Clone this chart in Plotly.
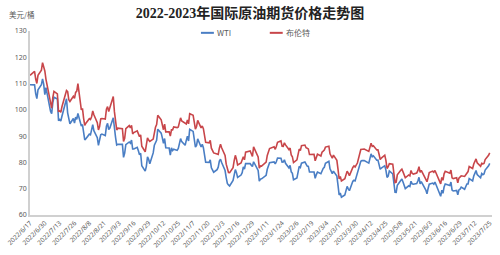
import plotly.graph_objects as go

dates = [
"2022-06-17","2022-06-21","2022-06-22","2022-06-23","2022-06-24","2022-06-27","2022-06-28","2022-06-29","2022-06-30","2022-07-01",
"2022-07-05","2022-07-06","2022-07-07","2022-07-08","2022-07-11","2022-07-12","2022-07-13","2022-07-14","2022-07-15","2022-07-18",
"2022-07-19","2022-07-20","2022-07-21","2022-07-22","2022-07-25","2022-07-26","2022-07-27","2022-07-28","2022-07-29","2022-08-01",
"2022-08-02","2022-08-03","2022-08-04","2022-08-05","2022-08-08","2022-08-09","2022-08-10","2022-08-11","2022-08-12","2022-08-15",
"2022-08-16","2022-08-17","2022-08-18","2022-08-19","2022-08-22","2022-08-23","2022-08-24","2022-08-25","2022-08-26","2022-08-29",
"2022-08-30","2022-08-31","2022-09-01","2022-09-02","2022-09-06","2022-09-07","2022-09-08","2022-09-09","2022-09-12","2022-09-13",
"2022-09-14","2022-09-15","2022-09-16","2022-09-19","2022-09-20","2022-09-21","2022-09-22","2022-09-23","2022-09-26","2022-09-27",
"2022-09-28","2022-09-29","2022-09-30","2022-10-03","2022-10-04","2022-10-05","2022-10-06","2022-10-07","2022-10-10","2022-10-11",
"2022-10-12","2022-10-13","2022-10-14","2022-10-17","2022-10-18","2022-10-19","2022-10-20","2022-10-21","2022-10-24","2022-10-25",
"2022-10-26","2022-10-27","2022-10-28","2022-10-31","2022-11-01","2022-11-02","2022-11-03","2022-11-04","2022-11-07","2022-11-08",
"2022-11-09","2022-11-10","2022-11-11","2022-11-14","2022-11-15","2022-11-16","2022-11-17","2022-11-18","2022-11-21","2022-11-22",
"2022-11-23","2022-11-25","2022-11-28","2022-11-29","2022-11-30","2022-12-01","2022-12-02","2022-12-05","2022-12-06","2022-12-07",
"2022-12-08","2022-12-09","2022-12-12","2022-12-13","2022-12-14","2022-12-15","2022-12-16","2022-12-19","2022-12-20","2022-12-21",
"2022-12-22","2022-12-23","2022-12-27","2022-12-28","2022-12-29","2022-12-30","2023-01-03","2023-01-04","2023-01-05","2023-01-06",
"2023-01-09","2023-01-10","2023-01-11","2023-01-12","2023-01-13","2023-01-17","2023-01-18","2023-01-19","2023-01-20","2023-01-23",
"2023-01-24","2023-01-25","2023-01-26","2023-01-27","2023-01-30","2023-01-31","2023-02-01","2023-02-02","2023-02-03","2023-02-06",
"2023-02-07","2023-02-08","2023-02-09","2023-02-10","2023-02-13","2023-02-14","2023-02-15","2023-02-16","2023-02-17","2023-02-21",
"2023-02-22","2023-02-23","2023-02-24","2023-02-27","2023-02-28","2023-03-01","2023-03-02","2023-03-03","2023-03-06","2023-03-07",
"2023-03-08","2023-03-09","2023-03-10","2023-03-13","2023-03-14","2023-03-15","2023-03-16","2023-03-17","2023-03-20","2023-03-21",
"2023-03-22","2023-03-23","2023-03-24","2023-03-27","2023-03-28","2023-03-29","2023-03-30","2023-03-31","2023-04-03","2023-04-04",
"2023-04-05","2023-04-06","2023-04-10","2023-04-11","2023-04-12","2023-04-13","2023-04-14","2023-04-17","2023-04-18","2023-04-19",
"2023-04-20","2023-04-21","2023-04-24","2023-04-25","2023-04-26","2023-04-27","2023-04-28","2023-05-01","2023-05-02","2023-05-03",
"2023-05-04","2023-05-05","2023-05-08","2023-05-09","2023-05-10","2023-05-11","2023-05-12","2023-05-15","2023-05-16","2023-05-17",
"2023-05-18","2023-05-19","2023-05-22","2023-05-23","2023-05-24","2023-05-25","2023-05-26","2023-05-30","2023-05-31","2023-06-01",
"2023-06-02","2023-06-05","2023-06-06","2023-06-07","2023-06-08","2023-06-09","2023-06-12","2023-06-13","2023-06-14","2023-06-15",
"2023-06-16","2023-06-20","2023-06-21","2023-06-22","2023-06-23","2023-06-26","2023-06-27","2023-06-28","2023-06-29","2023-06-30",
"2023-07-03","2023-07-05","2023-07-06","2023-07-07","2023-07-10","2023-07-11","2023-07-12","2023-07-13","2023-07-14","2023-07-17",
"2023-07-18","2023-07-19","2023-07-20","2023-07-21","2023-07-24","2023-07-25",
]

wti = [
109.56,109.52,106.19,104.27,107.62,109.57,111.76,109.78,105.76,108.43,
99.50,98.53,102.73,104.79,104.09,95.84,96.30,95.78,97.59,102.60,
104.22,98.88,96.35,94.70,96.70,94.98,97.26,96.42,98.62,93.89,
94.42,90.66,88.54,89.01,90.76,90.50,91.93,94.34,92.09,89.41,
86.53,88.11,90.50,90.77,90.23,93.74,94.89,92.52,93.06,97.01,
91.64,89.55,86.61,86.87,86.88,81.94,83.54,86.79,87.78,87.31,
88.48,85.10,85.11,85.73,84.45,82.94,83.49,78.74,76.71,78.50,
82.15,81.23,79.49,83.63,86.52,87.76,88.45,92.64,91.13,89.35,
87.27,89.11,85.61,85.46,82.82,85.55,84.51,85.05,84.58,85.32,
87.91,89.08,87.90,86.53,88.37,90.00,88.17,92.61,91.79,88.91,
85.83,86.47,88.96,85.87,86.92,85.59,81.64,80.08,80.04,80.95,
77.94,76.28,77.24,78.20,80.55,81.22,79.98,76.93,74.25,72.01,
71.46,71.02,73.17,75.39,77.28,76.11,74.29,75.19,76.09,78.29,
77.49,79.56,79.53,78.96,78.40,80.26,76.93,72.84,73.67,73.77,
74.63,75.12,77.41,78.39,79.86,80.18,79.48,80.33,81.64,81.62,
80.13,80.15,81.01,79.68,77.90,78.87,76.41,75.88,73.39,74.11,
77.14,78.47,78.06,79.72,80.14,79.06,78.59,78.49,76.34,76.36,
73.95,75.39,76.32,75.68,77.05,77.69,78.16,79.68,80.46,77.58,
76.66,75.72,76.68,74.80,71.33,67.61,68.35,66.74,67.64,69.33,
70.90,69.96,69.26,72.81,73.20,72.97,74.37,75.67,80.42,80.71,
80.61,80.70,79.74,81.53,83.26,82.16,82.52,80.83,80.86,79.16,
77.37,77.87,78.76,77.07,74.30,74.76,76.78,75.66,71.66,68.60,
68.56,71.34,73.16,73.71,72.56,70.87,70.04,71.11,70.86,72.83,
71.86,71.69,71.99,72.91,74.34,71.83,72.67,69.46,68.09,70.10,
71.74,72.15,71.74,72.53,71.29,70.17,67.12,69.42,68.27,70.62,
71.78,71.19,72.53,69.51,69.16,69.37,67.70,69.56,69.86,70.64,
69.79,71.79,71.80,73.86,72.99,74.83,75.75,76.89,75.42,74.15,
75.75,75.35,75.63,77.07,78.74,79.63,
]

brent = [
113.12,114.65,111.74,110.05,113.12,115.09,117.98,116.26,114.81,111.63,
102.77,100.69,104.65,107.02,106.10,99.49,99.57,99.10,101.16,106.27,
107.35,106.92,103.86,103.20,105.15,104.40,106.62,107.14,110.01,100.03,
100.54,96.78,94.12,94.92,96.65,96.31,97.40,99.60,98.15,95.10,
92.34,93.65,96.59,96.72,96.48,100.22,101.22,99.34,100.99,105.09,
99.31,96.49,92.36,93.02,92.83,88.00,89.15,92.84,94.00,93.17,
94.10,90.84,91.35,92.00,90.62,89.83,90.46,86.15,84.06,86.27,
89.32,88.49,87.96,88.86,91.80,93.37,94.42,97.92,96.19,94.29,
92.45,94.57,91.63,91.62,90.03,92.41,92.38,93.50,93.26,93.52,
95.69,96.96,95.77,94.83,94.65,96.16,94.67,98.57,97.92,95.36,
92.65,93.67,95.99,93.14,93.86,92.86,89.78,87.62,87.45,88.36,
85.41,83.63,83.19,83.03,85.43,86.88,85.57,82.68,79.35,77.17,
76.15,76.10,77.99,80.68,82.70,81.21,79.04,79.80,80.99,82.20,
80.98,83.92,84.33,83.26,82.26,85.91,82.10,77.84,78.69,78.57,
79.65,80.10,82.67,84.03,85.28,85.92,84.98,86.16,87.63,88.19,
86.13,86.12,87.47,86.66,84.90,85.46,82.84,82.17,79.94,80.99,
83.69,85.09,84.50,86.39,86.61,85.58,85.38,85.14,83.00,83.05,
80.60,82.21,83.16,82.45,83.89,84.31,84.75,85.83,86.18,83.29,
82.66,81.59,82.78,80.77,77.45,73.69,74.70,72.97,73.79,75.32,
76.69,75.91,74.99,78.12,78.65,78.28,79.27,79.77,84.93,84.94,
84.99,85.12,84.18,85.61,87.33,86.09,86.31,84.76,84.77,83.12,
81.10,81.66,82.73,80.77,77.69,78.37,79.54,79.31,75.32,72.33,
72.50,75.30,77.01,77.44,76.41,74.98,74.17,75.23,74.91,76.96,
75.86,75.58,75.99,76.84,78.36,76.26,76.95,73.54,72.66,74.28,
76.13,76.71,76.29,76.95,75.96,74.79,71.84,74.29,73.20,75.67,
76.61,75.90,77.12,74.14,73.85,74.18,72.26,74.03,74.34,74.90,
74.65,76.25,76.52,78.47,77.69,79.40,80.11,81.36,79.87,78.50,
79.63,79.46,79.64,81.07,82.74,83.64,
]

tick_dates = ["2022-06-17","2022-06-30","2022-07-13","2022-07-26","2022-08-08","2022-08-21","2022-09-03","2022-09-16",
"2022-09-29","2022-10-12","2022-10-25","2022-11-07","2022-11-20","2022-12-03","2022-12-16","2022-12-29",
"2023-01-11","2023-01-24","2023-02-06","2023-02-19","2023-03-04","2023-03-17","2023-03-30","2023-04-12",
"2023-04-25","2023-05-08","2023-05-21","2023-06-03","2023-06-16","2023-06-29","2023-07-12","2023-07-25"]
tick_text = ["2022/6/17","2022/6/30","2022/7/13","2022/7/26","2022/8/8","2022/8/21","2022/9/3","2022/9/16",
"2022/9/29","2022/10/12","2022/10/25","2022/11/7","2022/11/20","2022/12/3","2022/12/16","2022/12/29",
"2023/1/11","2023/1/24","2023/2/6","2023/2/19","2023/3/4","2023/3/17","2023/3/30","2023/4/12",
"2023/4/25","2023/5/8","2023/5/21","2023/6/3","2023/6/16","2023/6/29","2023/7/12","2023/7/25"]
y_ticks = [60, 70, 80, 90, 100, 110, 120, 130]

series_names = ["WTI", "布伦特"]
series_colors = ["#4A7EC4", "#C8464A"]

grey = "#595959"
fig = go.Figure()
for name, vals, col in zip(series_names, [wti, brent], series_colors):
    fig.add_trace(go.Scatter(x=dates, y=vals, mode="lines", name=name,
                             line=dict(color=col, width=1.6), showlegend=False))

# manual legend (short line samples, as in the reference)
leg_x = [0.370, 0.519]
shapes, annotations = [], []
for name, col, lx in zip(series_names, series_colors, leg_x):
    shapes.append(dict(type="line", xref="paper", yref="paper", x0=lx, x1=lx + 0.028,
                       y0=0.99, y1=0.99, line=dict(color=col, width=2)))
    annotations.append(dict(text=name, xref="paper", yref="paper", x=lx + 0.031, y=0.99,
                            xanchor="left", yanchor="middle", showarrow=False,
                            font=dict(family="Noto Sans CJK SC", size=8, color=grey)))
annotations.append(dict(text="美元/桶", xref="paper", yref="paper", x=-0.05, y=1.09,
                        xanchor="left", yanchor="middle", showarrow=False,
                        font=dict(family="Noto Sans CJK SC", size=7.5, color=grey)))

fig.update_layout(
    width=500, height=255,
    margin=dict(l=26, r=6, t=31, b=39),
    paper_bgcolor="white", plot_bgcolor="white",
    title=dict(text="<b>2022-2023年国际原油期货价格走势图</b>", x=0.5, xanchor="center",
               y=0.95, yanchor="middle",
               font=dict(family="Liberation Serif, Noto Sans CJK SC", size=14, color="#222222")),
    xaxis=dict(type="date", range=["2022-06-17", "2023-07-27"],
               tickmode="array", tickvals=tick_dates, ticktext=tick_text,
               tickangle=-45, tickfont=dict(family="Noto Sans", size=6.5, color=grey),
               showgrid=False, showline=True, linecolor="#D0D0D0", linewidth=1.5,
               ticks="", zeroline=False),
    yaxis=dict(range=[60, 130], tickmode="array", tickvals=y_ticks,
               tickfont=dict(family="Noto Sans", size=7, color=grey),
               showgrid=False, showline=True, linecolor="#D0D0D0", linewidth=1.5,
               ticks="", zeroline=False),
    shapes=shapes,
    annotations=annotations,
)

fig.write_html("out.html")
